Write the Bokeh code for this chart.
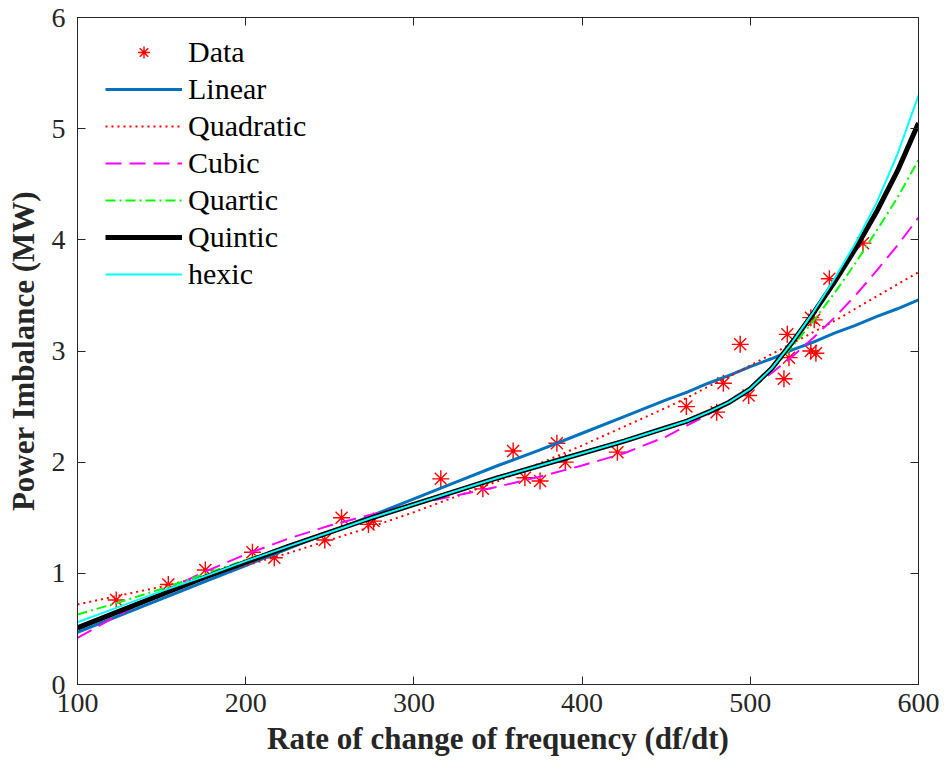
from bokeh.plotting import figure
from bokeh.models import Legend, LegendItem, LinearAxis, Range1d, FixedTicker
from bokeh.embed import file_html
from bokeh.resources import INLINE

# ---- data ----
data_x = [123, 154, 176, 204, 217, 247, 257, 273, 276, 316, 341, 359, 366, 375,
          385, 390, 421, 462, 480, 484, 494, 499, 520, 522, 523, 536, 538, 536,
          539, 547, 567]
data_y = [0.76, 0.90, 1.03, 1.19, 1.14, 1.30, 1.50, 1.44, 1.47, 1.85, 1.76, 2.10,
          1.86, 1.83, 2.17, 2.00, 2.09, 2.50, 2.45, 2.71, 3.06, 2.60, 2.75, 3.15,
          2.94, 3.30, 3.28, 3.00, 2.98, 3.65, 3.97]

fit_x = [100, 125, 150, 175, 200, 225, 250, 275, 300, 325, 350, 375, 400, 425,
         450, 462.5, 475, 487.5, 500, 512.5, 525, 537.5, 550, 562.5, 575, 587.5,
         600]
linear = [0.47, 0.62, 0.77, 0.92, 1.07, 1.22, 1.37, 1.52, 1.67, 1.82, 1.97, 2.11,
          2.26, 2.41, 2.56, 2.63, 2.71, 2.78, 2.86, 2.93, 3.01, 3.08, 3.16, 3.23,
          3.31, 3.38, 3.46]
quadratic = [0.72, 0.80, 0.88, 0.97, 1.07, 1.18, 1.30, 1.42, 1.55, 1.69, 1.83,
             1.99, 2.15, 2.32, 2.49, 2.58, 2.68, 2.77, 2.87, 2.97, 3.07, 3.17,
             3.27, 3.38, 3.49, 3.60, 3.71]
cubic = [0.42, 0.63, 0.83, 1.01, 1.17, 1.31, 1.43, 1.53, 1.62, 1.70, 1.78, 1.87,
         1.97, 2.08, 2.23, 2.33, 2.43, 2.54, 2.66, 2.80, 2.95, 3.12, 3.30, 3.50,
         3.72, 3.95, 4.20]
quartic = [0.63, 0.74, 0.86, 0.99, 1.12, 1.25, 1.38, 1.51, 1.63, 1.75, 1.87, 1.98,
           2.09, 2.20, 2.31, 2.38, 2.45, 2.54, 2.65, 2.82, 3.04, 3.27, 3.52, 3.79,
           4.08, 4.38, 4.72]
quintic = [0.51, 0.66, 0.81, 0.96, 1.10, 1.24, 1.37, 1.50, 1.62, 1.74, 1.86, 1.97,
           2.08, 2.19, 2.31, 2.37, 2.45, 2.54, 2.66, 2.84, 3.08, 3.34, 3.62, 3.92,
           4.25, 4.62, 5.05]
hexic = [0.56, 0.70, 0.84, 0.97, 1.11, 1.24, 1.37, 1.50, 1.62, 1.74, 1.86, 1.97,
         2.08, 2.19, 2.31, 2.37, 2.45, 2.54, 2.66, 2.84, 3.08, 3.35, 3.65, 3.97,
         4.33, 4.77, 5.30]

x_ticks = [100, 200, 300, 400, 500, 600]
y_ticks = [0, 1, 2, 3, 4, 5, 6]
x_label = "Rate of change of frequency (df/dt)"
y_label = "Power Imbalance (MW)"

FONT = "Liberation Serif"
AX = "#262626"

p = figure(width=945, height=769, output_backend="svg", toolbar_location=None,
           x_range=Range1d(100, 600), y_range=Range1d(0, 6),
           min_border_left=77, min_border_right=27, min_border_top=17,
           min_border_bottom=85, background_fill_color="white",
           border_fill_color="white")
p.xgrid.visible = False
p.ygrid.visible = False
p.outline_line_color = AX
p.outline_line_width = 1


def style(ax, ticks, show):
    ax.ticker = FixedTicker(ticks=ticks)
    ax.axis_line_color = AX
    ax.major_tick_line_color = AX
    ax.major_tick_in = 8
    ax.major_tick_out = 0
    ax.minor_tick_in = 0
    ax.minor_tick_out = 0
    ax.major_label_text_font = FONT
    ax.major_label_text_color = AX
    ax.major_label_text_font_size = "28px"
    if not show:
        ax.major_label_overrides = {t: "" for t in ticks}
        ax.major_label_standoff = 0


style(p.xaxis[0], x_ticks, True)
style(p.yaxis[0], y_ticks, True)
p.xaxis[0].major_label_standoff = 9
p.yaxis[0].major_label_standoff = 12
for ax, lab in ((p.xaxis[0], x_label), (p.yaxis[0], y_label)):
    ax.axis_label = lab
    ax.axis_label_text_font = FONT
    ax.axis_label_text_font_style = "bold"
    ax.axis_label_text_font_size = "31px"
    ax.axis_label_text_color = AX
p.xaxis[0].axis_label_standoff = 6
p.yaxis[0].axis_label_standoff = 8

top = LinearAxis()
style(top, x_ticks, False)
p.add_layout(top, "above")
right = LinearAxis()
style(right, y_ticks, False)
p.add_layout(right, "right")

r_data = p.scatter(data_x, data_y, marker="asterisk", size=17, line_color="#FF0000",
                   line_width=1.4)
r_lin = p.line(fit_x, linear, line_color="#0072BD", line_width=3)
r_quad = p.line(fit_x, quadratic, line_color="#FF0000", line_width=2, line_dash="2 4")
r_cub = p.line(fit_x, cubic, line_color="#FF00FF", line_width=2, line_dash="16 8")
r_qua = p.line(fit_x, quartic, line_color="#00FF00", line_width=2, line_dash="10 4 2 4")
r_qui = p.line(fit_x, quintic, line_color="#000000", line_width=5)
r_hex = p.line(fit_x, hexic, line_color="#00FFFF", line_width=2)

legend = Legend(items=[
    LegendItem(label="Data", renderers=[r_data]),
    LegendItem(label="Linear", renderers=[r_lin]),
    LegendItem(label="Quadratic", renderers=[r_quad]),
    LegendItem(label="Cubic", renderers=[r_cub]),
    LegendItem(label="Quartic", renderers=[r_qua]),
    LegendItem(label="Quintic", renderers=[r_qui]),
    LegendItem(label="hexic", renderers=[r_hex]),
], location=(28, 393), border_line_color=None, background_fill_alpha=0,
    padding=10, margin=0, spacing=3, glyph_width=77, glyph_height=30,
    label_height=30, label_standoff=6, label_text_font=FONT,
    label_text_font_size="30px", label_text_color="#000000")
p.add_layout(legend, "center")

open("out.html", "w").write(file_html(p, INLINE))
